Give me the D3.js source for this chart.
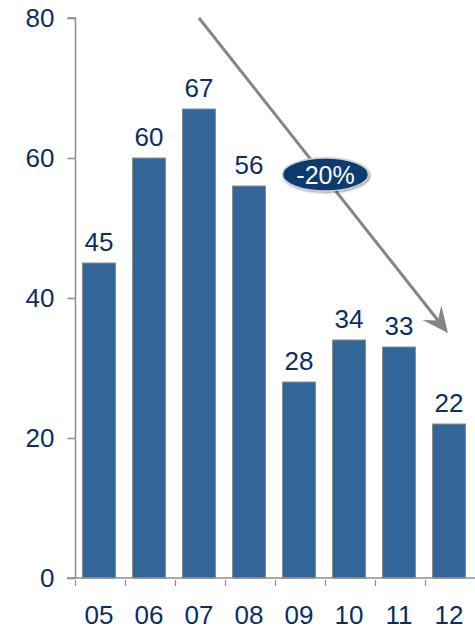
<!DOCTYPE html>
<html>
<head>
<meta charset="utf-8">
<script src="https://cdn.jsdelivr.net/npm/d3@7"></script>
<style>
  html, body { margin: 0; padding: 0; background: #fff; }
  svg { display: block; font-family: "Liberation Sans", Arial, sans-serif; }
</style>
</head>
<body>
<svg id="chart" width="475" height="629"></svg>
<script>
// Yearly values, two-digit year labels
const years = ["05", "06", "07", "08", "09", "10", "11", "12"];
const values = [45, 60, 67, 56, 28, 34, 33, 22];
const yTicks = [0, 20, 40, 60, 80];

// Trend arrow annotation, expressed in data terms
const trendFrom = ["07", 80];
const trendTo = ["12", 35];
const trendLabel = "-20%";

const barFill = "#336699";
const barStroke = "#8c8c8c";
const axisColor = "#8c8c8c";
const textColor = "#0b2f63";
const fontSize = 26;

const svg = d3.select("#chart");

const x = d3.scaleBand()
  .domain(years)
  .range([75, 475])
  .paddingInner(0.34)
  .paddingOuter(0.17);

const y = d3.scaleLinear()
  .domain([0, 80])
  .range([578, 18]);

// Y axis
const yAxis = svg.append("g")
  .attr("transform", "translate(75.5,0)")
  .call(d3.axisLeft(y).tickValues(yTicks).tickSize(8).tickPadding(13));
yAxis.select(".domain").attr("stroke", axisColor).attr("stroke-width", 1.5)
  .attr("d", `M-8,${y(80)}H0V${y(0)}`);
yAxis.selectAll(".tick line").attr("stroke", axisColor).attr("stroke-width", 1.5);
yAxis.selectAll(".tick text")
  .attr("fill", textColor)
  .attr("font-size", fontSize)
  .attr("font-family", "Liberation Sans, Arial, sans-serif");

// Bars
svg.append("g").selectAll("rect")
  .data(values)
  .join("rect")
  .attr("x", (d, i) => x(years[i]) - 1)
  .attr("y", d => y(d))
  .attr("width", x.bandwidth())
  .attr("height", d => y(0) - y(d))
  .attr("fill", barFill)
  .attr("stroke", barStroke)
  .attr("stroke-width", 1);

// X axis: baseline with ticks hanging below at band boundaries
const xAxisG = svg.append("g").attr("transform", `translate(0,${y(0)})`);
xAxisG.append("line")
  .attr("x1", 67).attr("x2", 475)
  .attr("stroke", axisColor).attr("stroke-width", 1.5);
const boundaries = years.map(c => x(c) - x.step() * x.paddingOuter());
xAxisG.selectAll("line.tk")
  .data(boundaries)
  .join("line")
  .attr("class", "tk")
  .attr("x1", d => d + 0.5).attr("x2", d => d + 0.5)
  .attr("y1", 2).attr("y2", 8)
  .attr("stroke", axisColor).attr("stroke-width", 1.2);
xAxisG.selectAll("text")
  .data(years)
  .join("text")
  .attr("x", d => x(d) + x.bandwidth() / 2 - 1)
  .attr("y", 46)
  .attr("text-anchor", "middle")
  .attr("fill", textColor)
  .attr("font-size", fontSize)
  .text(d => d);

// Value labels above bars
svg.append("g").selectAll("text")
  .data(values)
  .join("text")
  .attr("x", (d, i) => x(years[i]) + x.bandwidth() / 2 - 1)
  .attr("y", d => y(d) - 12)
  .attr("text-anchor", "middle")
  .attr("fill", textColor)
  .attr("font-size", fontSize)
  .text(d => d);

// Trend arrow
const ax1 = x(trendFrom[0]) + x.bandwidth() / 2 - 1, ay1 = y(trendFrom[1]);
const ax2 = x(trendTo[0]) + x.bandwidth() / 2 - 2, ay2 = y(trendTo[1]);
const ang = Math.atan2(ay2 - ay1, ax2 - ax1);
const ux = Math.cos(ang), uy = Math.sin(ang);
const px = -uy, py = ux;
const headLen = 26, headHalf = 12, notch = 16;
svg.append("line")
  .attr("x1", ax1).attr("y1", ay1)
  .attr("x2", ax2 - ux * notch).attr("y2", ay2 - uy * notch)
  .attr("stroke", "#858585").attr("stroke-width", 3);
const head = [
  [ax2, ay2],
  [ax2 - ux * headLen + px * headHalf, ay2 - uy * headLen + py * headHalf],
  [ax2 - ux * notch, ay2 - uy * notch],
  [ax2 - ux * headLen - px * headHalf, ay2 - uy * headLen - py * headHalf]
];
svg.append("path")
  .attr("d", d3.line()(head) + "Z")
  .attr("fill", "#858585");

// Percentage badge at the midpoint of the trend arrow
const mx = (ax1 + ax2) / 2 + 2, my = (ay1 + ay2) / 2 - 1;
const defs = svg.append("defs");
const f = defs.append("filter").attr("id", "soft").attr("x", "-20%").attr("y", "-30%")
  .attr("width", "140%").attr("height", "160%");
f.append("feDropShadow").attr("dx", 1).attr("dy", 1).attr("stdDeviation", 1.2)
  .attr("flood-color", "#000").attr("flood-opacity", 0.45);
svg.append("ellipse")
  .attr("cx", mx).attr("cy", my)
  .attr("rx", 43).attr("ry", 16.5)
  .attr("fill", "#0a3a70")
  .attr("stroke", "#c8ccd4").attr("stroke-width", 1.5)
  .attr("filter", "url(#soft)");
svg.append("text")
  .attr("x", mx).attr("y", my + 9)
  .attr("text-anchor", "middle")
  .attr("fill", "#ffffff")
  .attr("font-size", 25)
  .text(trendLabel);
</script>
</body>
</html>
